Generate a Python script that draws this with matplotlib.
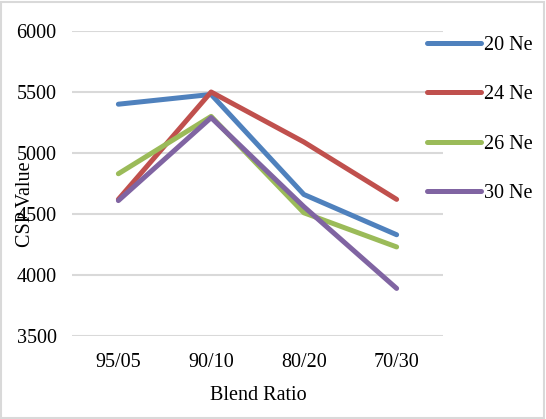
import matplotlib
matplotlib.use("Agg")
import matplotlib.pyplot as plt
from matplotlib.patches import Rectangle

plt.rcParams['font.family'] = ['Liberation Serif', 'DejaVu Serif']

ratios = ['95/05', '90/10', '80/20', '70/30']
ne20 = [5400, 5480, 4660, 4330]
ne24 = [4620, 5500, 5090, 4620]
ne26 = [4830, 5300, 4510, 4230]
ne30 = [4610, 5290, 4560, 3890]
names = ['20 Ne', '24 Ne', '26 Ne', '30 Ne']
colors = ['#4F81BD', '#C0504D', '#9BBB59', '#8064A2']
yticks = [3500, 4000, 4500, 5000, 5500, 6000]

W, H = 546, 419
fig = plt.figure(figsize=(W / 100, H / 100), dpi=100)
ax = fig.add_axes([72 / W, 1 - 336 / H, (443 - 72) / W, (336 - 31) / H])

x = range(len(ratios))
for vals, name, c in zip([ne20, ne24, ne26, ne30], names, colors):
    ax.plot(x, vals, color=c, lw=3.6, label=name, solid_capstyle='round',
            solid_joinstyle='round')

ax.set_xlim(-0.5, 3.5)
ax.set_ylim(3500, 6000)
ax.set_yticks(yticks)
ax.set_xticks(list(x))
ax.set_xticklabels(ratios)
ax.grid(axis='y', color='#d9d9d9', lw=1.5)
ax.set_axisbelow(True)
for s in ax.spines.values():
    s.set_visible(False)
ax.tick_params(length=0, labelsize=14.5, colors='black')
ax.tick_params(axis='x', pad=12)
ax.tick_params(axis='y', pad=11)

fig.text(258 / W, 1 - 395 / H, 'Blend Ratio', ha='center', va='center', fontsize=14.5)
fig.text(25 / W, 1 - 204 / H, 'CSP Value', ha='center', va='center',
         rotation=90, fontsize=14.5)

fig.legend(loc='upper left', bbox_to_anchor=(427 / W, 1 - 36 / H), frameon=False,
           fontsize=14.5, handlelength=2.7, handletextpad=0.15, labelspacing=1.5,
           borderpad=0, borderaxespad=0)

fig.patches.append(Rectangle((1 / W, 1 / H), 1 - 3 / W, 1 - 3 / H,
                             transform=fig.transFigure, fill=False,
                             edgecolor='#d9d9d9', lw=1.5))

fig.savefig('out.png', dpi=100)
